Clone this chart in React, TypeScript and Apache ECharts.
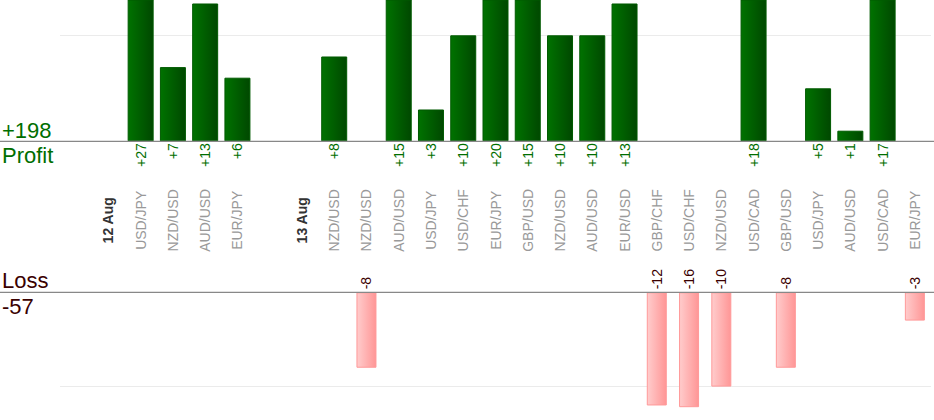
import React, { useEffect, useRef } from "react";
import * as echarts from "echarts";

const categories: string[] = [
  "", "12 Aug", "USD/JPY", "NZD/USD", "AUD/USD", "EUR/JPY", "", "13 Aug",
  "NZD/USD", "NZD/USD", "AUD/USD", "USD/JPY", "USD/CHF", "EUR/JPY", "GBP/USD",
  "NZD/USD", "AUD/USD", "EUR/USD", "GBP/CHF", "USD/CHF", "NZD/USD", "USD/CAD",
  "GBP/USD", "USD/JPY", "AUD/USD", "USD/CAD", "EUR/JPY",
];
const dateLabels: string[] = ["12 Aug", "13 Aug"];
const profitValues: (number | null)[] = [
  null, null, 27, 7, 13, 6, null, null,
  8, null, 15, 3, 10, 20, 15,
  10, 10, 13, null, null, null, 18,
  null, 5, 1, 17, null,
];
const lossValues: (number | null)[] = [
  null, null, null, null, null, null, null, null,
  null, -8, null, null, null, null, null,
  null, null, null, -12, -16, -10, null,
  -8, null, null, null, -3,
];
// visible axis extents and split-line step
const profitAxis: number[] = [0, 13.33, 10];
const lossAxis: number[] = [0, 12.13, 10];

const FONT = "'Liberation Sans', Arial, Helvetica, sans-serif";

export default function App() {
  const ref = useRef<HTMLDivElement>(null);
  useEffect(() => {
    if (!ref.current) return;
    const chart = echarts.init(ref.current, null, { renderer: "svg" });
    const totalProfit = profitValues.reduce((a: number, v) => a + (v || 0), 0);
    const totalLoss = lossValues.reduce((a: number, v) => a + (v || 0), 0);
    const green = "#006e00";
    const dark = "#3a0000";
    const topBase = 141.3;
    const botBase = 292.3;
    const lossMagnitudes = lossValues.map((v) => (v == null ? null : Math.abs(v)));
    chart.setOption({
      animation: false,
      textStyle: { fontFamily: FONT },
      grid: [
        { left: 60, width: 871, top: 0, height: topBase },
        { left: 60, width: 871, top: botBase, height: 114.4 },
      ],
      xAxis: [
        {
          type: "category",
          gridIndex: 0,
          data: categories,
          axisLine: { show: false },
          axisTick: { show: false },
          axisLabel: {
            interval: 0,
            rotate: 90,
            align: "center",
            verticalAlign: "middle",
            margin: 79,
            color: "#999",
            fontSize: 14,
            fontFamily: FONT,
            formatter: (v: string) => (dateLabels.includes(v) ? "{d|" + v + "}" : v),
            rich: {
              d: { fontWeight: "bold", color: "#333", fontSize: 14, fontFamily: FONT },
            },
          },
        },
        {
          type: "category",
          gridIndex: 1,
          data: categories,
          axisLine: { show: false },
          axisTick: { show: false },
          axisLabel: { show: false },
        },
      ],
      yAxis: [
        {
          type: "value",
          gridIndex: 0,
          min: profitAxis[0],
          max: profitAxis[1],
          interval: profitAxis[2],
          axisLabel: { show: false },
          axisLine: { show: false },
          axisTick: { show: false },
          splitLine: {
            showMaxLine: false,
            lineStyle: { color: "#ebebeb", width: 1 },
          },
        },
        {
          type: "value",
          gridIndex: 1,
          inverse: true,
          min: lossAxis[0],
          max: lossAxis[1],
          interval: lossAxis[2],
          axisLabel: { show: false },
          axisLine: { show: false },
          axisTick: { show: false },
          splitLine: {
            showMaxLine: false,
            lineStyle: { color: "#ebebeb", width: 1 },
          },
        },
      ],
      series: [
        {
          type: "bar",
          xAxisIndex: 0,
          yAxisIndex: 0,
          data: profitValues,
          barWidth: 26,
          clip: true,
          itemStyle: {
            color: new echarts.graphic.LinearGradient(0, 0, 1, 0, [
              { offset: 0, color: "#007200" },
              { offset: 1, color: "#004800" },
            ]),
            borderColor: "#005a00",
            borderWidth: 1,
          },
          label: {
            show: true,
            position: "bottom",
            rotate: 90,
            align: "right",
            verticalAlign: "middle",
            distance: 2,
            fontSize: 14,
            color: green,
            fontFamily: FONT,
            formatter: (p: any) => "+" + p.value,
          },
        },
        {
          type: "bar",
          xAxisIndex: 1,
          yAxisIndex: 1,
          data: lossMagnitudes,
          barWidth: 20,
          clip: true,
          itemStyle: {
            color: new echarts.graphic.LinearGradient(0, 0, 1, 0, [
              { offset: 0, color: "#ffcccc" },
              { offset: 1, color: "#ff9696" },
            ]),
            borderColor: "#ff9999",
            borderWidth: 1,
          },
          label: {
            show: true,
            position: "top",
            rotate: 90,
            align: "left",
            verticalAlign: "middle",
            distance: 3,
            fontSize: 14,
            color: dark,
            fontFamily: FONT,
            formatter: (p: any) => String(lossValues[p.dataIndex]),
          },
        },
      ],
      graphic: [
        {
          type: "line",
          z: 100,
          shape: { x1: 0, y1: topBase, x2: 934, y2: topBase },
          style: { stroke: "#888", lineWidth: 1.3 },
        },
        {
          type: "line",
          z: 100,
          shape: { x1: 0, y1: botBase, x2: 934, y2: botBase },
          style: { stroke: "#888", lineWidth: 1.3 },
        },
        {
          type: "text",
          x: 2,
          y: 130,
          z: 100,
          style: {
            text: "+" + totalProfit,
            fontSize: 22,
            fontFamily: FONT,
            fill: green,
            verticalAlign: "middle",
          },
        },
        {
          type: "text",
          x: 2,
          y: 155,
          z: 100,
          style: {
            text: "Profit",
            fontSize: 22,
            fontFamily: FONT,
            fill: green,
            verticalAlign: "middle",
          },
        },
        {
          type: "text",
          x: 2,
          y: 280,
          z: 100,
          style: {
            text: "Loss",
            fontSize: 22,
            fontFamily: FONT,
            fill: dark,
            verticalAlign: "middle",
          },
        },
        {
          type: "text",
          x: 2,
          y: 306,
          z: 100,
          style: {
            text: String(totalLoss),
            fontSize: 22,
            fontFamily: FONT,
            fill: dark,
            verticalAlign: "middle",
          },
        },
      ],
    });
    return () => chart.dispose();
  }, []);
  return (
    <div
      ref={ref}
      style={{
        position: "fixed",
        left: 0,
        top: 0,
        width: 934,
        height: 420,
        overflow: "hidden",
        background: "#fff",
      }}
    />
  );
}
